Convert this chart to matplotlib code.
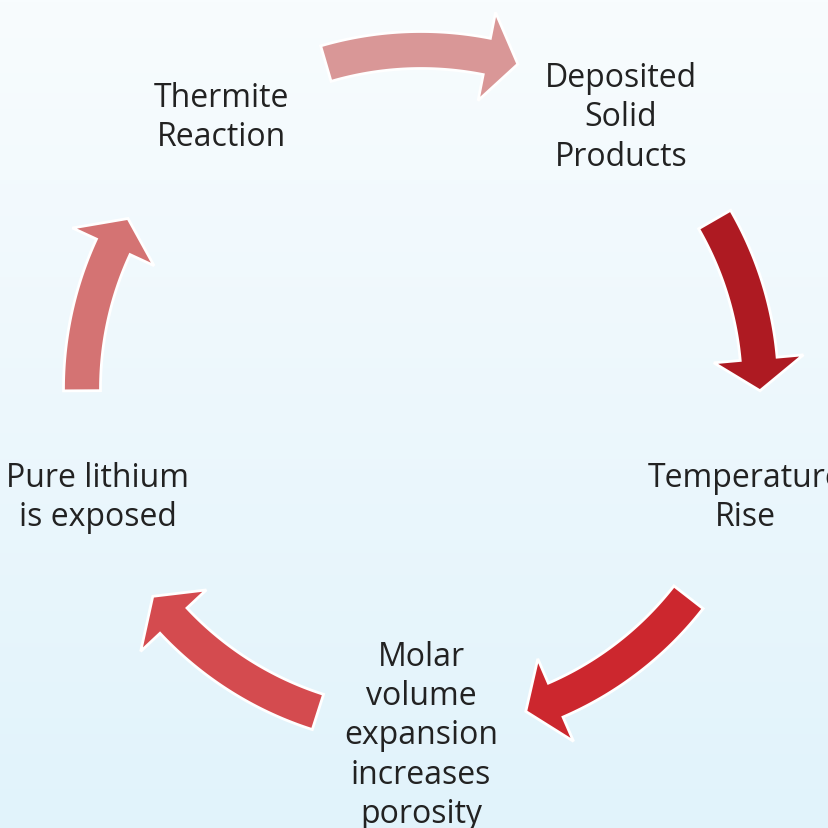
import numpy as np
import matplotlib
matplotlib.use("Agg")
import matplotlib.pyplot as plt
from matplotlib.patches import Polygon
from matplotlib.colors import LinearSegmentedColormap

# ---- data ----
labels = ["Thermite\nReaction", "Deposited\nSolid\nProducts", "Temperature\nRise",
          "Molar\nvolume\nexpansion\nincreases\nporosity", "Pure lithium\nis exposed"]
label_angles = [126, 54, -18, -90, 198]          # degrees around the cycle
arrow_start = [106.3, 30.0, -37.9, -107.7, 180.3]  # degrees
arrow_tip = [73.4, -0.3, -72.0, -142.3, 149.8]     # degrees
arrow_colors = ["#D99797", "#AE1A22", "#CC272E", "#D44B4F", "#D47373"]

W = H = 829
cx, cy = 421, 393
R_label = 340
R_arrow = 339
shaft_w = 37
head_w = 90
head_len = 32

fig = plt.figure(figsize=(8.29, 8.29), dpi=100)
ax = fig.add_axes([0, 0, 1, 1])
ax.set_xlim(0, W)
ax.set_ylim(H, 0)
ax.axis("off")

# background gradient
cmap = LinearSegmentedColormap.from_list("bg", ["#F8FCFE", "#E1F3FB"])
grad = np.linspace(0, 1, 256).reshape(-1, 1)
ax.imshow(grad, cmap=cmap, extent=[0, W, H, 0], aspect="auto", zorder=0)


def pt(r, ang, c=(421, 390)):
    a = np.deg2rad(ang)
    return c[0] + r * np.cos(a), c[1] - r * np.sin(a)


def arrow_poly(a0, a1):
    sign = np.sign(a1 - a0)
    dang = np.rad2deg(head_len / R_arrow)
    ah = a1 - sign * dang
    ts = np.linspace(a0, ah, 60)
    outer = [pt(R_arrow + shaft_w / 2, t) for t in ts]
    inner = [pt(R_arrow - shaft_w / 2, t) for t in ts[::-1]]
    head = [pt(R_arrow + head_w / 2, ah), pt(R_arrow, a1), pt(R_arrow - head_w / 2, ah)]
    return outer + head + inner


for a0, a1, c in zip(arrow_start, arrow_tip, arrow_colors):
    poly = Polygon(arrow_poly(a0, a1), closed=True, facecolor=c, edgecolor="white",
                   linewidth=2.0, joinstyle="miter", zorder=2)
    ax.add_patch(poly)

offsets = {2: (1, 0), 3: (0, 3)}
for i, (lab, ang) in enumerate(zip(labels, label_angles)):
    x, y = pt(R_label, ang, (cx, cy))
    dx, dy = offsets.get(i, (0, 0))
    ax.text(x + dx, y + dy, lab, ha="center", va="center", multialignment="center",
            fontsize=23, family="Open Sans", color="#222222", linespacing=1.25, zorder=3)

fig.savefig("out.png", dpi=100)
